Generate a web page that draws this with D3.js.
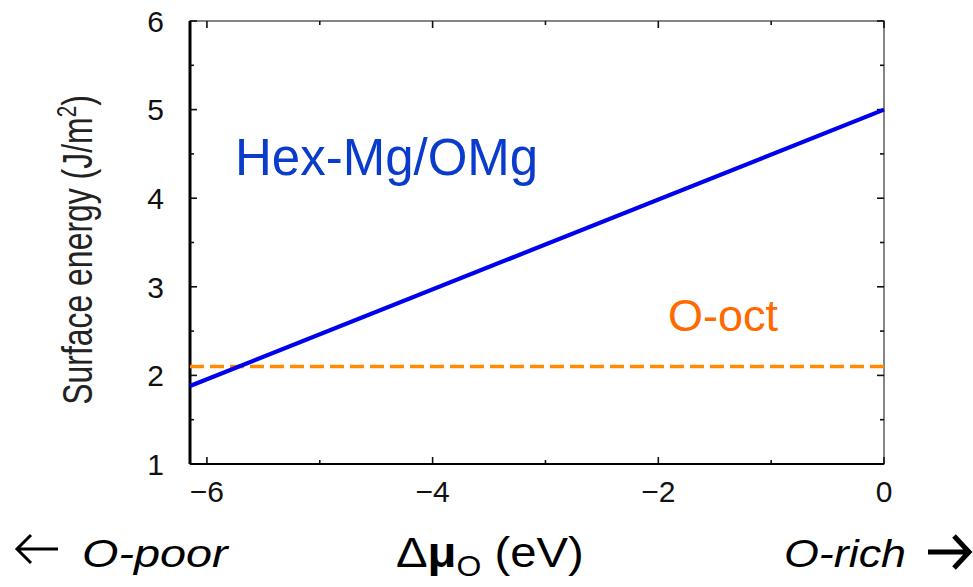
<!DOCTYPE html>
<html>
<head>
<meta charset="utf-8">
<script src="https://cdn.jsdelivr.net/npm/d3@7"></script>
<style>
  body { margin: 0; background: #fff; }
  text { font-family: "Liberation Sans", Arial, sans-serif; }
</style>
</head>
<body>
<svg id="chart" width="973" height="587"></svg>
<script>
// data
const muRange = [-6.15, 0];
const hexMu = [-6.15, 0];
const hexEnergy = [1.88, 5.0];
const octMu = [-6.15, 0];
const octEnergy = [2.1, 2.1];
const xTicks = [-6, -4, -2, 0];
const xMinor = [-5, -3, -1];
const yTicks = [1, 2, 3, 4, 5, 6];
const yMinor = [1.5, 2.5, 3.5, 4.5, 5.5];

const margin = { top: 21, right: 89, bottom: 123, left: 190 },
    width = 973 - margin.left - margin.right,
    height = 587 - margin.top - margin.bottom;

const svg = d3.select("#chart");
const g = svg.append("g")
    .attr("transform", `translate(${margin.left},${margin.top})`);

const x = d3.scaleLinear().domain(muRange).range([0, width]);
const y = d3.scaleLinear().domain([1, 6]).range([height, 0]);

// frame, top / right lighter
g.append("rect")
    .attr("width", width).attr("height", height)
    .attr("fill", "none").attr("stroke", "#444").attr("stroke-width", 1.3);

// ticks pointing inward on all four sides
const tickG = g.append("g").attr("stroke", "#111").attr("stroke-width", 1.6);
xTicks.concat(xMinor).forEach(v => {
  const len = xTicks.includes(v) ? 7 : 4;
  tickG.append("line").attr("x1", x(v)).attr("x2", x(v)).attr("y1", height).attr("y2", height - len);
  tickG.append("line").attr("x1", x(v)).attr("x2", x(v)).attr("y1", 0).attr("y2", len);
});
yTicks.concat(yMinor).forEach(v => {
  const len = yTicks.includes(v) ? 7 : 4;
  tickG.append("line").attr("y1", y(v)).attr("y2", y(v)).attr("x1", 0).attr("x2", len);
  tickG.append("line").attr("y1", y(v)).attr("y2", y(v)).attr("x1", width).attr("x2", width - len);
});

// heavier left and bottom edges
g.append("line").attr("x1", 0).attr("x2", 0).attr("y1", 0).attr("y2", height)
    .attr("stroke", "#000").attr("stroke-width", 3);
g.append("line").attr("x1", 0).attr("x2", width).attr("y1", height).attr("y2", height)
    .attr("stroke", "#000").attr("stroke-width", 2);

// tick labels
g.append("g").selectAll("text").data(xTicks).join("text")
    .attr("x", d => x(d)).attr("y", height + 38)
    .attr("text-anchor", "middle").attr("font-size", 30).attr("fill", "#111")
    .text(d => d < 0 ? "\u2212" + Math.abs(d) : d);
g.append("g").selectAll("text").data(yTicks).join("text")
    .attr("x", -26).attr("y", d => y(d)).attr("dy", "0.36em")
    .attr("text-anchor", "end").attr("font-size", 30).attr("fill", "#111")
    .text(d => d);

// lines
const line = d3.line().x(d => x(d[0])).y(d => y(d[1]));
g.append("path")
    .datum(octMu.map((m, i) => [m, octEnergy[i]]))
    .attr("d", line).attr("fill", "none")
    .attr("stroke", "#ff8c00").attr("stroke-width", 3.5)
    .attr("stroke-dasharray", "14,6");
g.append("path")
    .datum(hexMu.map((m, i) => [m, hexEnergy[i]]))
    .attr("d", line).attr("fill", "none")
    .attr("stroke", "#0000f0").attr("stroke-width", 4.2);

// series labels
g.append("text").attr("x", 45).attr("y", 154)
    .attr("font-size", 51).attr("fill", "#0a3ccc").text("Hex-Mg/OMg");
g.append("text").attr("x", 478).attr("y", 310)
    .attr("font-size", 45).attr("fill", "#ff6a00").text("O-oct");

// y axis title (narrow, tall lettering)
svg.append("text")
    .attr("transform", "translate(92,250) rotate(-90) scale(1.03,1.35)")
    .attr("text-anchor", "middle").attr("font-size", 31).attr("fill", "#222")
    .html("Surface energy (J/m<tspan dy='-12' font-size='20'>2</tspan><tspan dy='12'>)</tspan>");

// bottom titles
const by = 567;
svg.append("text")
    .attr("transform", `translate(82,${by}) scale(1.2,1)`)
    .attr("font-size", 39).attr("font-style", "italic").attr("fill", "#000")
    .text("O-poor");
svg.append("text")
    .attr("transform", `translate(906,${by}) scale(1.15,1)`)
    .attr("text-anchor", "end")
    .attr("font-size", 39).attr("font-style", "italic").attr("fill", "#000")
    .text("O-rich");
svg.append("text")
    .attr("transform", `translate(396,${by}) scale(1.1,1)`)
    .attr("font-size", 43).attr("fill", "#000")
    .html("\u0394<tspan font-weight='bold'>\u03bc</tspan><tspan dy='9' font-size='29'>O</tspan><tspan dy='-9'> (eV)</tspan>");

// arrows
svg.append("path")
    .attr("d", "M58,549 H17 M31,535 L17,549 L31,563")
    .attr("fill", "none").attr("stroke", "#000").attr("stroke-width", 3);
svg.append("path")
    .attr("d", "M928,552 H968 M954,536 L969,552 L954,568")
    .attr("fill", "none").attr("stroke", "#000").attr("stroke-width", 5);
</script>
</body>
</html>
